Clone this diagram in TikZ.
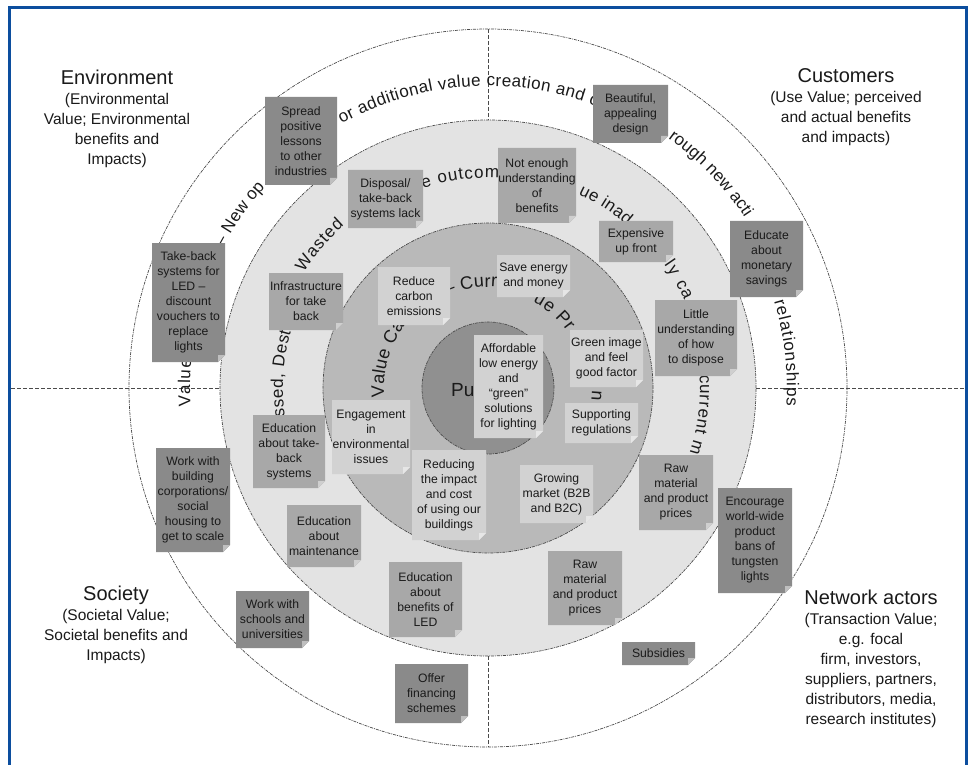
\documentclass[tikz,border=0pt]{standalone}
\usepackage{fontspec}
\setmainfont{Liberation Sans}
\usetikzlibrary{decorations.text,calc}
\definecolor{ringB}{HTML}{E3E3E3}
\definecolor{ringC}{HTML}{B9B9B9}
\definecolor{ringD}{HTML}{909090}
\definecolor{noteDark}{HTML}{8A8A8A}
\definecolor{noteMid}{HTML}{A8A8A8}
\definecolor{noteLight}{HTML}{D2D2D2}
\definecolor{frameblue}{RGB}{12,78,158}
\definecolor{inkc}{HTML}{1A1A1A}
\definecolor{linec}{HTML}{4A4A4A}
\tikzset{
  ringline/.style={draw=linec,line width=0.7pt,dash pattern=on 3pt off 1pt on 1pt off 1pt},
  divline/.style={draw=linec,line width=0.8pt,dash pattern=on 4pt off 2pt},
  notetext/.style={align=center,inner sep=0pt,font=\fontsize{12.2}{15}\selectfont,text=inkc},
  quadlabel/.style={align=center,inner sep=0pt,font=\fontsize{15.5}{20}\selectfont,text=inkc},
}
\newcommand\notebox[7]{%
  \fill[#6] (#2,#3) -- (#4,#3) -- (#4,{#5-7}) -- ({#4-7},#5) -- (#2,#5) -- cycle;
  \fill[#6!55!white] (#4,{#5-7}) -- ({#4-7},{#5-7}) -- ({#4-7},#5) -- cycle;
  \node[notetext] (#1) at ({(#2+#4)/2},{(#3+#5)/2}) {#7};
}
\newcommand\ringtext[5]{%
  \path[decorate,decoration={text along path,text align={fit to path},text color=inkc,
      text={|\fontsize{#4}{#4}\selectfont|#5}}]
    ([shift={(#2:#1pt)}]C) arc[start angle=#2,end angle=#3,radius=#1pt];
}
\begin{document}
\begin{tikzpicture}[x=1pt,y=-1pt]
\useasboundingbox (0,0) rectangle (970,765);
\fill[white] (0,0) rectangle (970,765);
\coordinate (C) at (488,388);
% rings
\draw[ringline] (C) circle[radius=359pt];
\draw[ringline,fill=ringB] (C) circle[radius=268pt];
\draw[ringline,fill=ringC] (C) circle[radius=165pt];
\draw[ringline,fill=ringD] (C) circle[radius=66pt];
% dividing lines
\draw[divline] (488,29) -- (488,120);
\draw[divline] (488,656) -- (488,747);
\draw[divline] (11,388) -- (220,388);
\draw[divline] (756,388) -- (965,388);
% ring texts
\ringtext{298}{183.5}{174.5}{17}{Value}
\ringtext{300}{152}{138}{17}{– New op}
\ringtext{302}{119}{69}{17}{or additional value creation and c}
\ringtext{308}{54.2}{33.5}{17}{rough new acti}
\ringtext{299}{16.8}{-3.5}{17}{relationships}
\ringtext{205}{188}{164}{17}{ssed, Dest}
\ringtext{217}{148}{131.5}{17}{Wasted}
\ringtext{210}{108}{87}{17}{e outcom}
\ringtext{214}{65}{49.5}{17}{ue inad}
\ringtext{215}{35}{24}{17}{ly ca}
\ringtext{212}{3.5}{-18}{17}{current m}
\ringtext{104}{185}{143}{18}{Value Ca}
\ringtext{101}{114}{85}{18}{– Curr}
\ringtext{97}{62.5}{35.5}{18}{ue Pr}
\path[decorate,decoration={text along path,text align=center,text color=inkc,
    text={|\fontsize{18}{18}\selectfont|n}}]
  ([shift={(0:104pt)}]C) arc[start angle=0,end angle=-8,radius=104pt];
\node[anchor=base west,inner sep=0pt,font=\fontsize{19}{19}\selectfont,text=inkc] (pu) at (451,396) {Pu};
% outer ring notes
\notebox{n1}{265}{97}{337}{185}{noteDark}{Spread\\positive\\lessons\\to other\\industries}
\notebox{n2}{152}{243}{225}{362}{noteDark}{Take-back\\systems for\\LED –\\discount\\vouchers to\\replace\\lights}
\notebox{n3}{156}{448}{230}{552}{noteDark}{Work with\\building\\corporations/\\social\\housing to\\get to scale}
\notebox{n4}{236}{591}{309}{648}{noteDark}{Work with\\schools and\\universities}
\notebox{n5}{395}{664}{468}{723}{noteDark}{Offer\\financing\\schemes}
\notebox{n6}{622}{642}{695}{665}{noteDark}{Subsidies}
\notebox{n7}{718}{488}{792}{593}{noteDark}{Encourage\\world-wide\\product\\bans of\\tungsten\\lights}
\notebox{n8}{730}{221}{803}{297}{noteDark}{Educate\\about\\monetary\\savings}
\notebox{n9}{593}{85}{668}{143}{noteDark}{Beautiful,\\appealing\\design}
% second ring notes
\notebox{n10}{348}{170}{423}{228}{noteMid}{Disposal/\\take-back\\systems lack}
\notebox{n11}{498}{148}{576}{223}{noteMid}{Not enough\\understanding\\of\\benefits}
\notebox{n12}{599}{221}{673}{262}{noteMid}{Expensive\\up front}
\notebox{n13}{655}{300}{737}{376}{noteMid}{Little\\understanding\\of how\\to dispose}
\notebox{n14}{639}{455}{713}{530}{noteMid}{Raw\\material\\and product\\prices}
\notebox{n15}{548}{551}{622}{625}{noteMid}{Raw\\material\\and product\\prices}
\notebox{n16}{389}{562}{462}{637}{noteMid}{Education\\about\\benefits of\\LED}
\notebox{n17}{287}{505}{361}{567}{noteMid}{Education\\about\\maintenance}
\notebox{n18}{253}{415}{325}{488}{noteMid}{Education\\about take-\\back\\systems}
\notebox{n19}{269}{273}{343}{330}{noteMid}{Infrastructure\\for take\\back}
% third ring notes
\notebox{n20}{378}{267}{450}{325}{noteLight}{Reduce\\carbon\\emissions}
\notebox{n21}{497}{255}{570}{297}{noteLight}{Save energy\\and money}
\notebox{n22}{570}{330}{643}{387}{noteLight}{Green image\\and feel\\good factor}
\notebox{n23}{565}{403}{638}{443}{noteLight}{Supporting\\regulations}
\notebox{n24}{474}{335}{543}{438}{noteLight}{Affordable\\low energy\\and\\“green”\\solutions\\for lighting}
\notebox{n25}{332}{400}{410}{474}{noteLight}{Engagement\\in\\environmental\\issues}
\notebox{n26}{412}{450}{486}{540}{noteLight}{Reducing\\the impact\\and cost\\of using our\\buildings}
\notebox{n27}{520}{465}{593}{523}{noteLight}{Growing\\market (B2B\\and B2C)}
% quadrant labels
\node[quadlabel,anchor=north] (env) at (117,70) {{\fontsize{20}{20}\selectfont Environment}\\(Environmental\\Value; Environmental\\benefits and\\Impacts)};
\node[quadlabel,anchor=north] (cust) at (846,68) {{\fontsize{20}{20}\selectfont Customers}\\(Use Value; perceived\\and actual benefits\\and impacts)};
\node[quadlabel,anchor=north] (soc) at (116,586) {{\fontsize{20}{20}\selectfont Society}\\(Societal Value;\\Societal benefits and\\Impacts)};
\node[quadlabel,anchor=north] (net) at (871,590) {{\fontsize{20}{20}\selectfont Network actors}\\(Transaction Value;\\e.g. focal\\firm, investors,\\suppliers, partners,\\distributors, media,\\research institutes)};
% frame
\draw[frameblue,line width=3pt] (9.5,765) -- (9.5,7.5) -- (966.5,7.5) -- (966.5,765);
\end{tikzpicture}
\end{document}
